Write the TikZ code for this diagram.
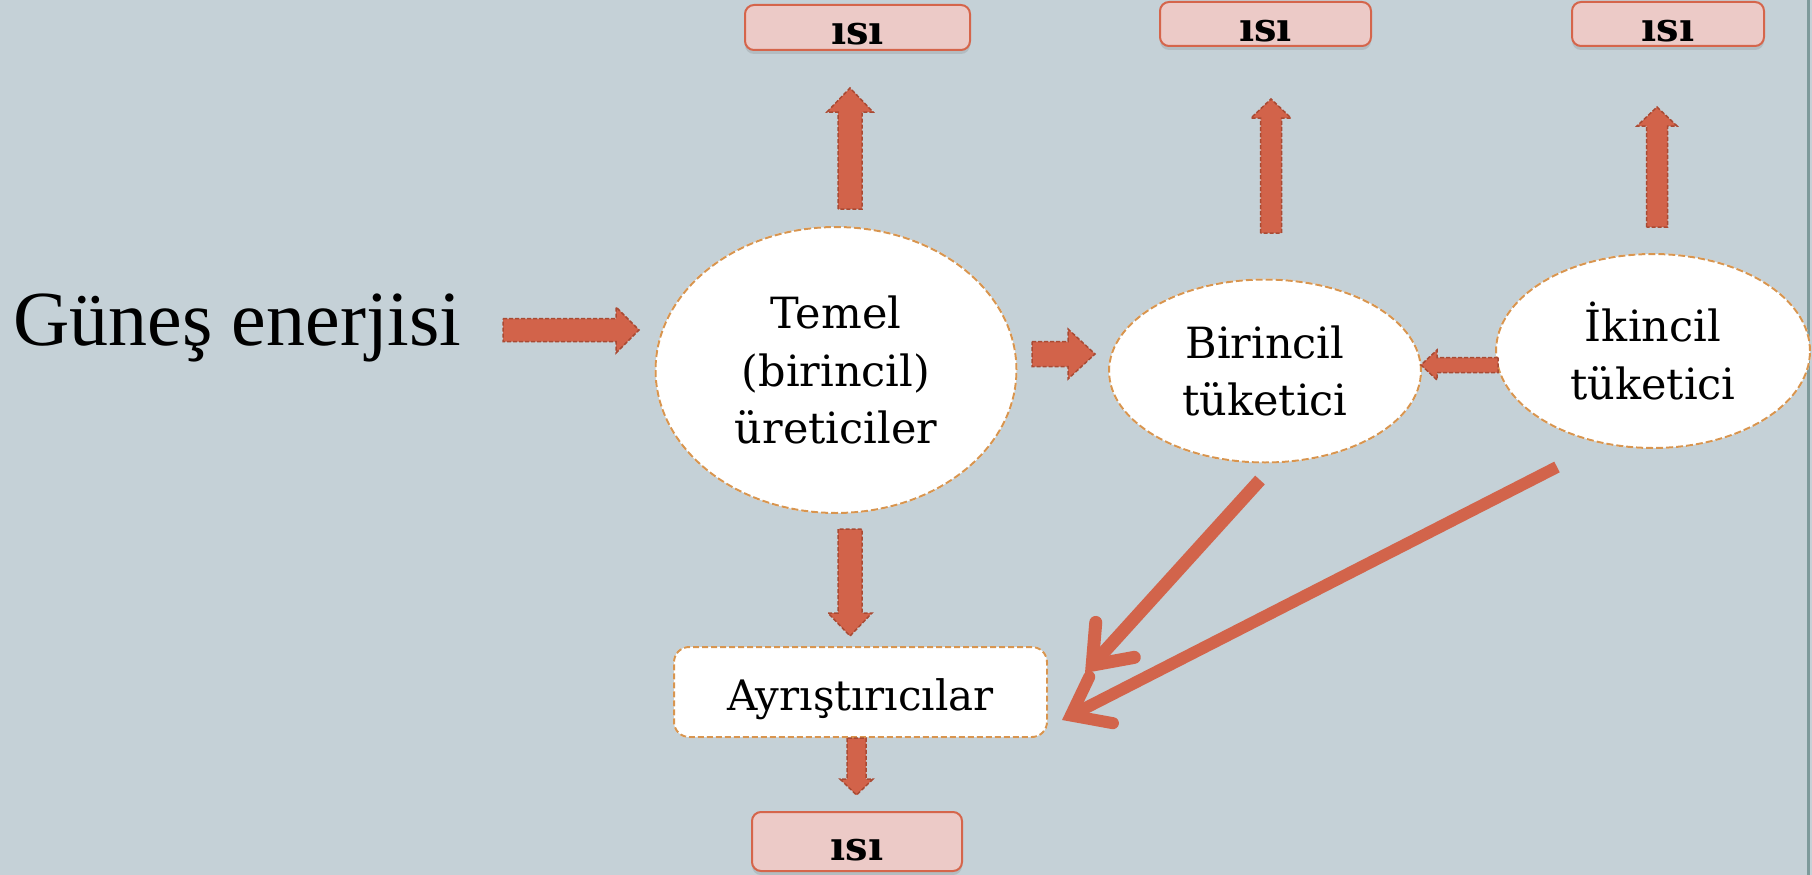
\documentclass[tikz,border=0pt]{standalone}
\usepackage{fontspec}
\setmainfont{DejaVu Serif}
\newfontfamily\timesf{Liberation Serif}
\usetikzlibrary{shapes.geometric,arrows.meta,shadows}
\definecolor{bg}{HTML}{C5D1D7}
\definecolor{arrowfill}{HTML}{D2634A}
\definecolor{arrowedge}{HTML}{A94A33}
\definecolor{ellline}{HTML}{D8954F}
\definecolor{boxfill}{HTML}{ECCAC7}
\definecolor{boxline}{HTML}{D5654B}
\definecolor{bigline}{HTML}{D2644B}
\definecolor{edgeline}{HTML}{7E9A9B}
\tikzset{
  barrow/.style={fill=arrowfill, draw=arrowedge, line width=1.5pt, dash pattern=on 4pt off 2pt},
  ell/.style={ellipse, fill=white, draw=ellline, line width=2pt, dash pattern=on 7pt off 3pt,
    preaction={draw=white, line width=2pt}, inner sep=0pt, align=center,
    font=\fontsize{43}{57.5}\selectfont},
  isibox/.style={rectangle, rounded corners=9pt, fill=boxfill, draw=boxline, line width=2pt,
    inner sep=0pt, font=\bfseries\fontsize{40}{40}\selectfont, text height=35pt, text depth=0pt,
    drop shadow={opacity=0.25, shadow xshift=0pt, shadow yshift=-4pt}},
  decbox/.style={rectangle, rounded corners=15pt, fill=white, draw=ellline, line width=2pt,
    dash pattern=on 6pt off 3pt, preaction={draw=white, line width=2pt}, inner sep=0pt,
    font=\fontsize{42}{42}\selectfont, text height=36pt, text depth=0pt},
  bigarrow/.style={draw=bigline, line width=13pt,
    -{Straight Barb[length=34pt,width=52pt,line cap=round]}},
}
\begin{document}
\begin{tikzpicture}[x=1pt,y=-1pt]
\useasboundingbox (0,0) rectangle (1812,875);
\fill[bg] (0,0) rectangle (1812,875);
\draw[edgeline, line width=3pt] (1808.5,0) -- (1808.5,875);

% left label
\node[anchor=base west, inner sep=0pt, font=\timesf\fontsize{78}{78}\selectfont] (sun) at (13,345) {Güneş enerjisi};

% ellipses
\node[ell, minimum width=361pt, minimum height=286pt] (temel) at (836,370) {Temel\\(birincil)\\üreticiler};
\node[ell, minimum width=312pt, minimum height=183pt] (bir) at (1265,371) {Birincil\\tüketici};
\node[ell, minimum width=314pt, minimum height=194pt] (iki) at (1653,351) {İkincil\\tüketici};

% decomposers
\node[decbox, minimum width=373pt, minimum height=90pt] (ayr) at (860.5,692) {Ayrıştırıcılar};

% heat boxes
\node[isibox, minimum width=225pt, minimum height=45pt] (isi1) at (857.5,27.5) {ısı};
\node[isibox, minimum width=211pt, minimum height=44pt, text height=36pt] (isi2) at (1265.5,24) {ısı};
\node[isibox, minimum width=192pt, minimum height=44pt, text height=36pt] (isi3) at (1668,24) {ısı};
\node[isibox, minimum width=210pt, minimum height=59pt, text height=37pt] (isi4) at (857,841.5) {ısı};

% block arrows
\draw[barrow] (503,318.5) -- (616,318.5) -- (616,307) -- (639,330) -- (616,353) -- (616,341.5) -- (503,341.5) -- cycle;
\draw[barrow] (1032,341.5) -- (1068,341.5) -- (1068,329) -- (1095,354) -- (1068,379) -- (1068,366.5) -- (1032,366.5) -- cycle;
\draw[barrow] (1498,357.5) -- (1437,357.5) -- (1437,350) -- (1421,365) -- (1437,380) -- (1437,372.5) -- (1498,372.5) -- cycle;
\draw[barrow] (838,209) -- (838,112) -- (827,112) -- (850,88) -- (873,112) -- (862,112) -- (862,209) -- cycle;
\draw[barrow] (1260.5,233) -- (1260.5,118) -- (1251,118) -- (1271,99) -- (1291,118) -- (1281.5,118) -- (1281.5,233) -- cycle;
\draw[barrow] (1646.5,227) -- (1646.5,126) -- (1637,126) -- (1657,107) -- (1677,126) -- (1667.5,126) -- (1667.5,227) -- cycle;
\draw[barrow] (838,529) -- (838,613) -- (828,613) -- (850,636) -- (872,613) -- (862,613) -- (862,529) -- cycle;
\draw[barrow] (847,738) -- (847,779) -- (840,779) -- (856.5,795) -- (873,779) -- (866,779) -- (866,738) -- cycle;

% big line arrows
\coordinate (b1s) at (1260,480);
\coordinate (b1e) at (1085,673);
\coordinate (b2s) at (1557,467);
\coordinate (b2e) at (1062,720);
\draw[bigarrow] (b1s) -- (b1e);
\draw[bigarrow, line width=12pt] (b2s) -- (b2e);
\end{tikzpicture}
\end{document}
